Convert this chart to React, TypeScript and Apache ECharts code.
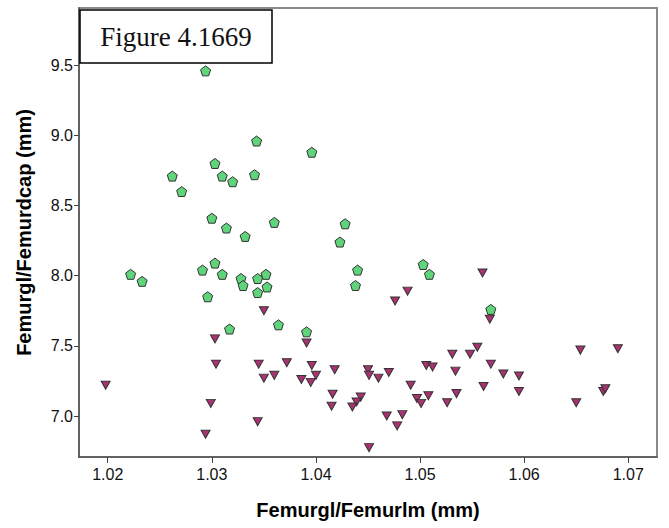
import React, { useEffect, useRef } from "react";
import * as echarts from "echarts";

// Group shown with green pentagons
const greenX = [1.0294, 1.0343, 1.0396, 1.0303, 1.0262, 1.0310, 1.0320, 1.0341, 1.0271, 1.0300, 1.0314, 1.0360, 1.0428, 1.0332, 1.0423, 1.0222, 1.0233, 1.0291, 1.0303, 1.0310, 1.0328, 1.0330, 1.0344, 1.0352, 1.0353, 1.0344, 1.0440, 1.0438, 1.0296, 1.0317, 1.0364, 1.0391, 1.0503, 1.0509, 1.0568];
const greenY = [9.46, 8.96, 8.88, 8.80, 8.71, 8.71, 8.67, 8.72, 8.60, 8.41, 8.34, 8.38, 8.37, 8.28, 8.24, 8.01, 7.96, 8.04, 8.09, 8.01, 7.98, 7.93, 7.98, 8.01, 7.92, 7.88, 8.04, 7.93, 7.85, 7.62, 7.65, 7.60, 8.08, 8.01, 7.76];

// Group shown with purple down-triangles
const pinkX = [1.0350, 1.0303, 1.0391, 1.0304, 1.0345, 1.0372, 1.0396, 1.0418, 1.0450, 1.0350, 1.0360, 1.0386, 1.0400, 1.0395, 1.0451, 1.0460, 1.0198, 1.0416, 1.0415, 1.0443, 1.0439, 1.0435, 1.0299, 1.0344, 1.0294, 1.0451, 1.0560, 1.0488, 1.0476, 1.0567, 1.0555, 1.0531, 1.0548, 1.0654, 1.0690, 1.0506, 1.0512, 1.0568, 1.0534, 1.0470, 1.0580, 1.0595, 1.0491, 1.0561, 1.0595, 1.0497, 1.0501, 1.0508, 1.0535, 1.0526, 1.0468, 1.0483, 1.0478, 1.0650, 1.0676, 1.0678];
const pinkY = [7.75, 7.55, 7.52, 7.37, 7.37, 7.38, 7.36, 7.33, 7.33, 7.27, 7.29, 7.26, 7.29, 7.24, 7.29, 7.27, 7.22, 7.155, 7.07, 7.135, 7.10, 7.065, 7.09, 6.96, 6.87, 6.775, 8.02, 7.89, 7.82, 7.69, 7.49, 7.44, 7.44, 7.47, 7.48, 7.36, 7.35, 7.37, 7.32, 7.31, 7.30, 7.285, 7.22, 7.21, 7.175, 7.125, 7.09, 7.145, 7.16, 7.095, 7.00, 7.01, 6.93, 7.095, 7.175, 7.195];

const xTicks = [1.02, 1.03, 1.04, 1.05, 1.06, 1.07];
const yTicks = [7.0, 7.5, 8.0, 8.5, 9.0, 9.5];

const xTitle = "Femurgl/Femurlm (mm)";
const yTitle = "Femurgl/Femurdcap (mm)";
const figureLabel = "Figure 4.1669";

const pentagon = "path://M0,-10 L9.51,-3.09 L5.88,8.09 L-5.88,8.09 L-9.51,-3.09 Z";
const downTri = "path://M-5,-4 L5,-4 L0,5 Z";

export default function App() {
  const ref = useRef<HTMLDivElement>(null);
  useEffect(() => {
    document.body.style.margin = "0";
    if (!ref.current) return;
    const chart = echarts.init(ref.current, null, { renderer: "svg" });
    const green = greenX.map((x, i) => [x, greenY[i]]);
    const pink = pinkX.map((x, i) => [x, pinkY[i]]);
    chart.setOption({
      animation: false,
      backgroundColor: "#ffffff",
      grid: {
        left: 79,
        right: 12,
        top: 8,
        bottom: 71,
        show: true,
        borderColor: "#8a8a8a",
        borderWidth: 2,
        backgroundColor: "#ffffff",
      },
      xAxis: {
        type: "value",
        min: 1.01724,
        max: 1.07276,
        name: xTitle,
        nameLocation: "middle",
        nameGap: 43,
        nameTextStyle: { fontFamily: "Liberation Sans, Arial", fontWeight: "bold", fontSize: 20, color: "#000" },
        axisLine: { show: true, onZero: false, lineStyle: { color: "#555", width: 1.5 } },
        axisTick: { show: true, customValues: xTicks, length: 6, lineStyle: { color: "#444" } },
        axisLabel: {
          customValues: xTicks,
          formatter: (v: number) => v.toFixed(2),
          fontFamily: "Liberation Sans, Arial",
          fontSize: 16,
          color: "#111",
          margin: 9,
        },
        splitLine: { show: false },
      },
      yAxis: {
        type: "value",
        min: 6.708,
        max: 9.908,
        name: yTitle,
        nameLocation: "middle",
        nameGap: 45,
        nameTextStyle: { fontFamily: "Liberation Sans, Arial", fontWeight: "bold", fontSize: 20, color: "#000" },
        axisLine: { show: true, onZero: false, lineStyle: { color: "#555", width: 1.5 } },
        axisTick: { show: true, customValues: yTicks, length: 5, lineStyle: { color: "#444" } },
        axisLabel: {
          customValues: yTicks,
          formatter: (v: number) => v.toFixed(1),
          fontFamily: "Liberation Sans, Arial",
          fontSize: 16,
          color: "#111",
          margin: 6,
        },
        splitLine: { show: false },
      },
      series: [
        {
          type: "scatter",
          data: green,
          symbol: pentagon,
          symbolSize: 10,
          itemStyle: { color: "#5fd47b", borderColor: "#333", borderWidth: 1, opacity: 1 },
        },
        {
          type: "scatter",
          data: pink,
          symbol: downTri,
          symbolSize: [9, 8],
          itemStyle: { color: "#a83272", borderColor: "#333", borderWidth: 1, opacity: 1 },
        },
      ],
      graphic: [
        {
          type: "rect",
          shape: { x: 80, y: 10, width: 192, height: 53 },
          style: { fill: "#ffffff", stroke: "#000", lineWidth: 1.5 },
          z: 100,
        },
        {
          type: "text",
          x: 176,
          y: 37,
          style: {
            text: figureLabel,
            fontFamily: "Liberation Serif, Times New Roman",
            fontSize: 27,
            fill: "#111",
            textAlign: "center",
            textVerticalAlign: "middle",
          },
          z: 101,
        },
      ],
    });
    return () => chart.dispose();
  }, []);
  return <div ref={ref} style={{ width: 669, height: 528 }} />;
}
